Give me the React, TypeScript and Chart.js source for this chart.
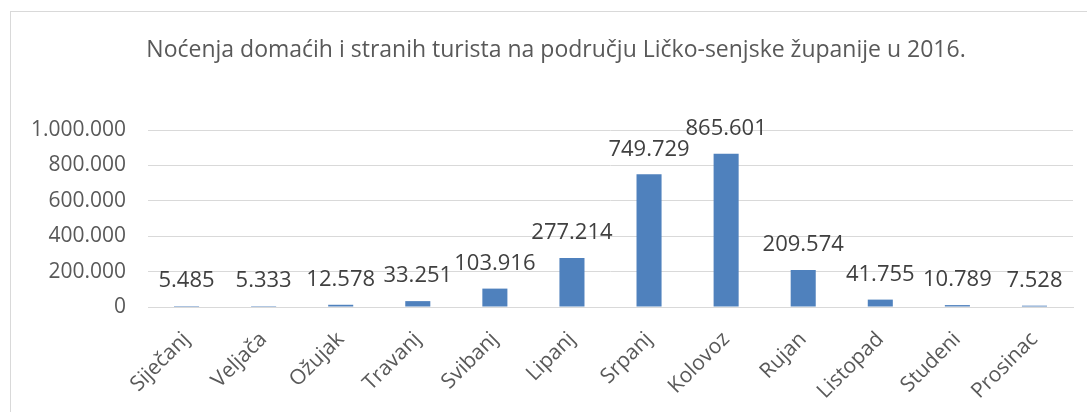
import React, { useEffect, useRef } from "react";
import { Chart, registerables } from "chart.js";

Chart.register(...registerables);

const TITLE = "Noćenja domaćih i stranih turista na području Ličko-senjske županije u 2016.";
const months = [
  "Siječanj",
  "Veljača",
  "Ožujak",
  "Travanj",
  "Svibanj",
  "Lipanj",
  "Srpanj",
  "Kolovoz",
  "Rujan",
  "Listopad",
  "Studeni",
  "Prosinac",
];
const nights = [5485, 5333, 12578, 33251, 103916, 277214, 749729, 865601, 209574, 41755, 10789, 7528];
const yMin = 0;
const yMax = 1000000;
const yStep = 200000;

const fmt = (v: number) => String(Math.round(v)).replace(/\B(?=(\d{3})+(?!\d))/g, ".");

const FONT = "'Open Sans', 'Noto Sans', sans-serif";

const dataLabels = {
  id: "dataLabels",
  afterDatasetsDraw(chart: any) {
    const ctx = chart.ctx;
    const meta = chart.getDatasetMeta(0);
    ctx.save();
    ctx.font = `22px ${FONT}`;
    ctx.fillStyle = "#404040";
    ctx.textAlign = "center";
    ctx.textBaseline = "middle";
    meta.data.forEach((el: any, i: number) => {
      const v = chart.data.datasets[0].data[i] as number;
      ctx.fillText(fmt(v), el.x, el.y - 25);
    });
    ctx.restore();
  },
};

const chartTitle = {
  id: "chartTitle",
  afterDraw(chart: any) {
    const ctx = chart.ctx;
    ctx.save();
    ctx.font = `23px ${FONT}`;
    ctx.fillStyle = "#595959";
    ctx.textAlign = "center";
    ctx.textBaseline = "middle";
    ctx.fillText(TITLE, 556, 50);
    ctx.restore();
  },
};

export default function App() {
  const ref = useRef<HTMLCanvasElement | null>(null);

  useEffect(() => {
    if (!ref.current) return;
    const chart = new Chart(ref.current, {
      type: "bar",
      data: {
        labels: months,
        datasets: [
          {
            data: nights,
            backgroundColor: "#4f81bd",
            borderWidth: 0,
            barPercentage: 0.325,
            categoryPercentage: 1,
          },
        ],
      },
      options: {
        responsive: false,
        animation: false,
        layout: { padding: { left: 0, right: 14, top: 130, bottom: 0 } },
        plugins: {
          legend: { display: false },
          tooltip: { enabled: false },
          title: { display: false },
        },
        scales: {
          x: {
            grid: { display: false, drawTicks: false },
            border: { display: true, color: "#d9d9d9", width: 1 },
            ticks: {
              color: "#595959",
              font: { family: FONT, size: 21 },
              minRotation: 45,
              maxRotation: 45,
              padding: 20,
              autoSkip: false,
            },
            afterFit: (scale: any) => {
              scale.height = 105;
            },
          },
          y: {
            min: yMin,
            max: yMax,
            grid: { color: "#d9d9d9", lineWidth: 1, drawTicks: false },
            border: { display: false },
            ticks: {
              stepSize: yStep,
              color: "#595959",
              font: { family: FONT, size: 21 },
              padding: 22,
              callback: (v: any) => fmt(Number(v)),
            },
            afterFit: (scale: any) => {
              scale.width = 148;
            },
          },
        },
      } as any,
      plugins: [dataLabels, chartTitle],
    });
    return () => chart.destroy();
  }, []);

  return (
    <div style={{ position: "fixed", left: 0, top: 0, width: 1087, height: 412, overflow: "hidden", background: "#ffffff" }}>
      <div
        style={{
          position: "absolute",
          left: 10,
          top: 11,
          width: 1100,
          height: 420,
          border: "1px solid #d9d9d9",
        }}
      />
      <canvas ref={ref} width={1087} height={412} style={{ position: "absolute", left: 0, top: 0, display: "block" }} />
    </div>
  );
}
